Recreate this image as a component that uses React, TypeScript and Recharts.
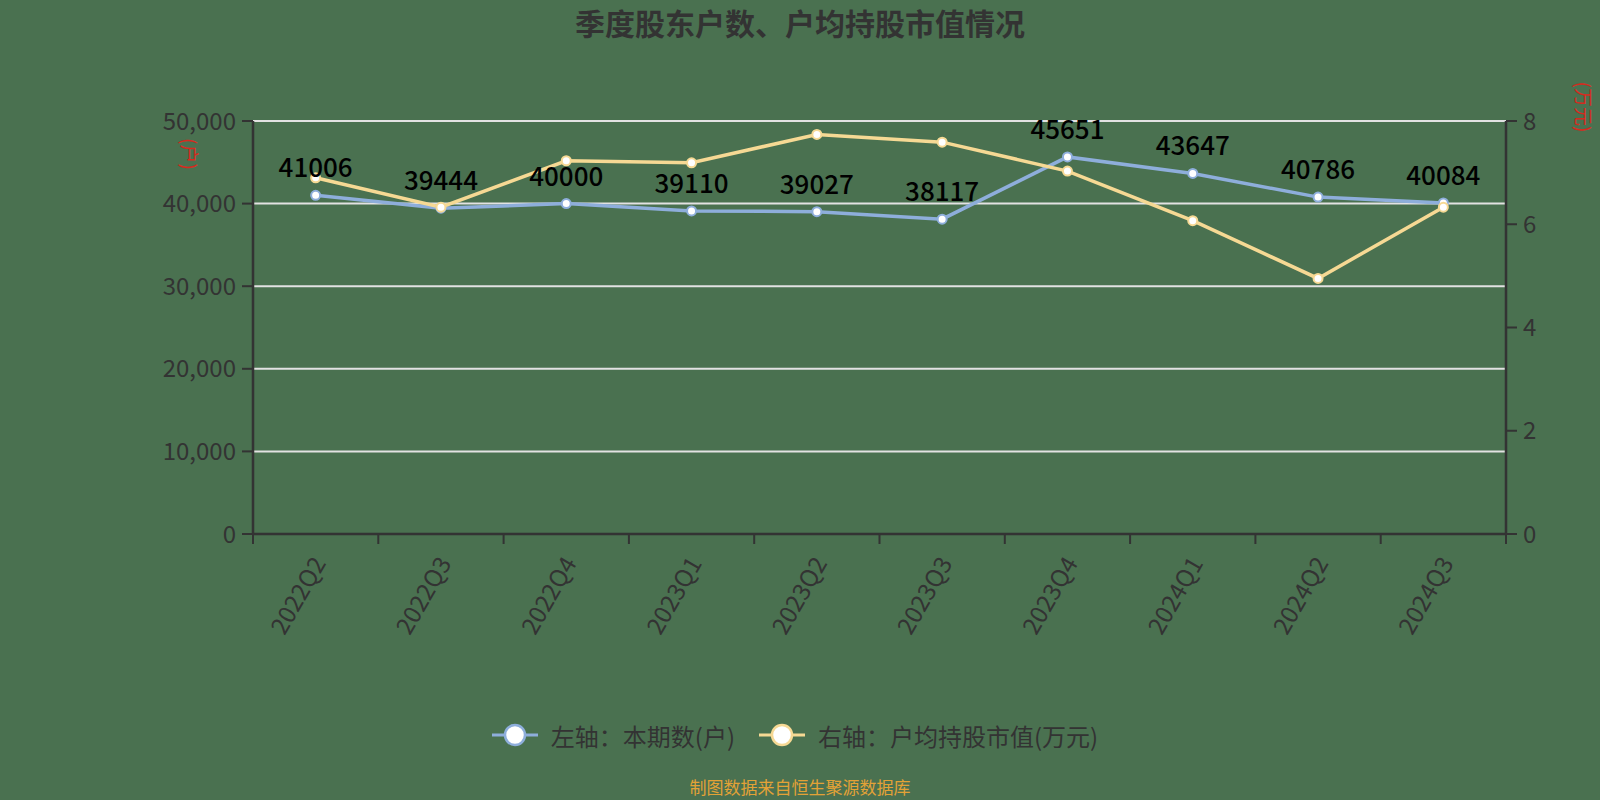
import React from "react";
import {
  LineChart,
  Line,
  XAxis,
  YAxis,
  CartesianGrid,
  LabelList,
} from "recharts";

const BG = "#4a7150";
const INK = "#333333";
const BLUE = "#8eaedb";
const YELLOW = "#f6d994";
const RED = "#d62a1e";
const FONT = '"Noto Sans CJK SC", "Noto Sans", sans-serif';

const QUARTERS = [
  "2022Q2",
  "2022Q3",
  "2022Q4",
  "2023Q1",
  "2023Q2",
  "2023Q3",
  "2023Q4",
  "2024Q1",
  "2024Q2",
  "2024Q3",
];
// 本期数(户)
const HOLDERS = [41006, 39444, 40000, 39110, 39027, 38117, 45651, 43647, 40786, 40084];
// 户均持股市值(万元)
const AVG_VALUE = [6.9, 6.33, 7.23, 7.19, 7.74, 7.59, 7.03, 6.07, 4.95, 6.33];

const LEFT_TICKS = [0, 10000, 20000, 30000, 40000, 50000];
const RIGHT_TICKS = [0, 2, 4, 6, 8];
// category boundaries (tick marks) and category centres (labels) on a 0..n axis
const X_TICKS = [
  ...QUARTERS.map((_, i) => i),
  QUARTERS.length,
  ...QUARTERS.map((_, i) => i + 0.5),
];

// each quarter sits in the middle of its slot on the 0..n axis
const data = QUARTERS.map((q, i) => ({
  quarter: q,
  pos: i + 0.5,
  holders: HOLDERS[i],
  avgValue: AVG_VALUE[i],
}));

function QuarterTick(props: any) {
  const { x, y, payload } = props;
  const v = payload.value;
  if (Number.isInteger(v)) {
    return <line x1={x} y1={y} x2={x} y2={y + 10} stroke={INK} strokeWidth={2} />;
  }
  return (
    <text
      x={0}
      y={0}
      transform={`translate(${x + 2},${y + 24}) rotate(-60)`}
      textAnchor="end"
      dominantBaseline="central"
      fontSize={24}
      fill={INK}
      fontFamily={FONT}
    >
      {QUARTERS[Math.floor(v)]}
    </text>
  );
}

function AxisName({ viewBox, text, dx, dy }: any) {
  const cx = viewBox.x + dx;
  const cy = viewBox.y + dy;
  return (
    <text
      x={0}
      y={0}
      transform={`translate(${cx},${cy}) rotate(90)`}
      textAnchor="middle"
      dominantBaseline="central"
      fontSize={19}
      fill={RED}
      fontFamily={FONT}
    >
      {text}
    </text>
  );
}

function LegendItem({ color, label }: { color: string; label: string }) {
  return (
    <div style={{ display: "flex", alignItems: "center", marginRight: 24 }}>
      <svg width={46} height={26} style={{ marginRight: 13 }}>
        <line x1={0} y1={13} x2={46} y2={13} stroke={color} strokeWidth={3} />
        <circle cx={23} cy={13} r={10} fill="#fff" stroke={color} strokeWidth={2.5} />
      </svg>
      <span style={{ fontSize: 24, color: INK }}>{label}</span>
    </div>
  );
}

export default function App() {
  return (
    <div
      style={{
        position: "absolute",
        left: 0,
        top: 0,
        width: 1600,
        height: 800,
        background: BG,
        fontFamily: FONT,
        overflow: "hidden",
      }}
    >
      <div
        style={{
          position: "absolute",
          top: 0,
          left: 0,
          width: 1600,
          lineHeight: "44px",
          textAlign: "center",
          fontSize: 30,
          fontWeight: 700,
          color: INK,
        }}
      >
        季度股东户数、户均持股市值情况
      </div>

      <LineChart
        width={1600}
        height={800}
        data={data}
        margin={{ top: 121, right: 34, left: 173, bottom: 166 }}
      >
        <CartesianGrid
          yAxisId="left"
          vertical={false}
          stroke="#e2e2e2"
          strokeWidth={2}
        />
        <XAxis
          dataKey="pos"
          type="number"
          domain={[0, QUARTERS.length]}
          ticks={X_TICKS}
          interval={0}
          height={100}
          axisLine={{ stroke: INK, strokeWidth: 2.5 }}
          tickLine={false}
          tickSize={0}
          tickMargin={0}
          tick={<QuarterTick />}
        />
        <YAxis
          yAxisId="left"
          width={80}
          domain={[0, 50000]}
          ticks={LEFT_TICKS}
          tickFormatter={(v) => v.toLocaleString("en-US")}
          axisLine={{ stroke: INK, strokeWidth: 2.5 }}
          tickLine={{ stroke: INK, strokeWidth: 2 }}
          tickSize={11}
          tickMargin={6}
          tick={{ fill: INK, fontSize: 24, fontFamily: FONT }}
          label={<AxisName text="(户)" dx={17} dy={33} />}
        />
        <YAxis
          yAxisId="right"
          orientation="right"
          width={60}
          domain={[0, 8]}
          ticks={RIGHT_TICKS}
          axisLine={{ stroke: INK, strokeWidth: 2.5 }}
          tickLine={{ stroke: INK, strokeWidth: 2 }}
          tickSize={11}
          tickMargin={6}
          tick={{ fill: INK, fontSize: 24, fontFamily: FONT }}
          label={<AxisName text="(万元)" dx={78} dy={-14} />}
        />
        <Line
          yAxisId="left"
          dataKey="holders"
          stroke={BLUE}
          strokeWidth={3.5}
          dot={{ r: 4.5, fill: "#fff", stroke: BLUE, strokeWidth: 2 }}
          isAnimationActive={false}
        />
        <Line
          yAxisId="right"
          dataKey="avgValue"
          stroke={YELLOW}
          strokeWidth={3.5}
          dot={{ r: 4.5, fill: "#fff", stroke: YELLOW, strokeWidth: 2 }}
          isAnimationActive={false}
        />
        {/* value labels for the holders series, drawn above both lines */}
        <Line
          yAxisId="left"
          dataKey="holders"
          stroke="none"
          dot={false}
          activeDot={false}
          legendType="none"
          isAnimationActive={false}
        >
          <LabelList
            dataKey="holders"
            position="top"
            offset={18}
            fill="#000"
            fontSize={26}
            fontWeight={500}
            fontFamily={FONT}
          />
        </Line>
      </LineChart>

      <div
        style={{
          position: "absolute",
          top: 720,
          left: 0,
          width: 1600,
          height: 30,
          display: "flex",
          justifyContent: "center",
          alignItems: "center",
          paddingLeft: 14,
          boxSizing: "border-box",
        }}
      >
        <LegendItem color={BLUE} label="左轴：本期数(户)" />
        <LegendItem color={YELLOW} label="右轴：户均持股市值(万元)" />
      </div>

      <div
        style={{
          position: "absolute",
          top: 775,
          left: 0,
          width: 1600,
          lineHeight: "24px",
          textAlign: "center",
          fontSize: 17,
          color: "#e3a236",
        }}
      >
        制图数据来自恒生聚源数据库
      </div>
    </div>
  );
}
